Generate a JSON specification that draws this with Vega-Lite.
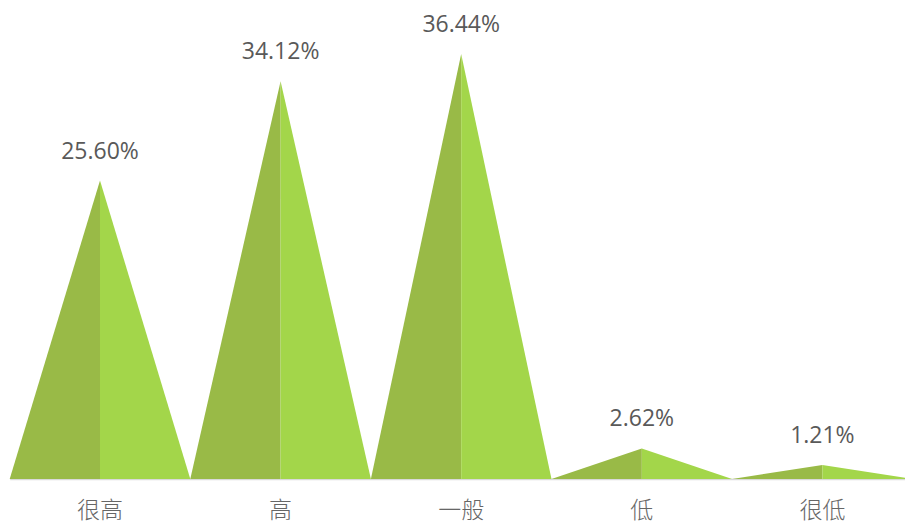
{
  "$schema": "https://vega.github.io/schema/vega-lite/v6.json",
  "width": 903,
  "height": 479,
  "autosize": {"type": "none"},
  "padding": {"left": 9.7, "top": 0, "right": 0, "bottom": 42},
  "background": "white",
  "config": {
    "view": {"stroke": null},
    "axisX": {
      "domain": true,
      "domainColor": "#d9d9d9",
      "domainWidth": 1.5,
      "labels": false,
      "ticks": false,
      "grid": false
    }
  },
  "data": {
    "values": [
      {"cat": "很高", "value": 25.60},
      {"cat": "高", "value": 34.12},
      {"cat": "一般", "value": 36.44},
      {"cat": "低", "value": 2.62},
      {"cat": "很低", "value": 1.21}
    ]
  },
  "transform": [
    {"window": [{"op": "row_number", "as": "i"}]},
    {"calculate": "datum.i - 1", "as": "l"},
    {"calculate": "datum.i - 0.5", "as": "m"},
    {"calculate": "datum.i", "as": "r"},
    {"fold": ["l", "m", "r"], "as": ["vertex", "x"]},
    {"calculate": "datum.vertex === 'm' ? datum.value : 0", "as": "y"},
    {"calculate": "format(datum.value, '.2f') + '%'", "as": "label"}
  ],
  "layer": [
    {
      "transform": [{"filter": "datum.vertex !== 'r'"}],
      "mark": {"type": "area", "color": "#99ba47", "interpolate": "linear"},
      "encoding": {
        "x": {"field": "x", "type": "quantitative", "scale": {"domain": [0, 5], "nice": false, "zero": false}, "title": null},
        "y": {"field": "y", "type": "quantitative", "stack": null, "scale": {"domain": [0, 41.08], "nice": false}, "axis": null},
        "detail": {"field": "cat"}
      }
    },
    {
      "transform": [{"filter": "datum.vertex !== 'l'"}],
      "mark": {"type": "area", "color": "#a3d64a", "interpolate": "linear"},
      "encoding": {
        "x": {"field": "x", "type": "quantitative", "title": null},
        "y": {"field": "y", "type": "quantitative", "stack": null, "axis": null},
        "detail": {"field": "cat"}
      }
    },
    {
      "transform": [{"filter": "datum.vertex === 'm'"}],
      "mark": {"type": "text", "font": "Open Sans", "fontSize": 23, "color": "#595959", "baseline": "alphabetic", "align": "center", "dy": -22},
      "encoding": {
        "x": {"field": "x", "type": "quantitative", "title": null},
        "y": {"field": "y", "type": "quantitative", "axis": null},
        "text": {"field": "label"}
      }
    },
    {
      "transform": [{"filter": "datum.vertex === 'm'"}],
      "mark": {"type": "text", "font": "Noto Sans CJK SC", "fontSize": 23, "fontWeight": 300, "color": "#666666", "baseline": "middle", "align": "center", "dy": 32},
      "encoding": {
        "x": {"field": "x", "type": "quantitative", "title": null},
        "y": {"datum": 0, "type": "quantitative", "axis": null},
        "text": {"field": "cat"}
      }
    }
  ]
}
